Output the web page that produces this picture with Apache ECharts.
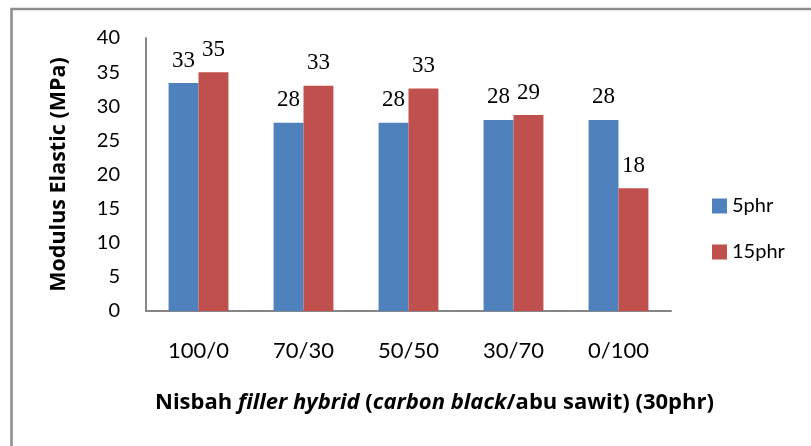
<!DOCTYPE html>
<html>
<head>
<meta charset="utf-8">
<script src="https://cdn.jsdelivr.net/npm/echarts@6/dist/echarts.min.js"></script>
<style>html,body{margin:0;padding:0;background:#fff;}#c{width:811px;height:446px;}</style>
</head>
<body>
<div id="c"></div>
<script>
const categories = ['100/0', '70/30', '50/50', '30/70', '0/100'];
const series5phr = [33.4, 27.6, 27.6, 28.0, 28.0];
const series15phr = [35.0, 33.0, 32.6, 28.7, 18.0];
const labels5phr = ['33', '28', '28', '28', '28'];
const labels15phr = ['35', '33', '33', '29', '18'];
const yTicks = [0, 5, 10, 15, 20, 25, 30, 35, 40];

const chart = echarts.init(document.getElementById('c'));
const sans = 'Lato';
const boldFont = '"Open Sans", sans-serif';
const catGap = 0.43;
const labelSeries = (values, texts, side) => ({
  type: 'custom', silent: true, z: 5,
  data: values.map((v, i) => [i, v]),
  renderItem: (params, api) => {
    const c = api.coord([api.value(0), api.value(1)]);
    const bw = api.size([1, 0])[0];
    const half = bw * (1 - catGap) / 4;
    return {
      type: 'text', x: c[0] + side * half, y: c[1] - 11,
      style: { text: texts[params.dataIndex], font: '23px "Liberation Serif"', fill: '#000',
        align: 'center', verticalAlign: 'bottom' }
    };
  }
});
chart.setOption({
  animation: false,
  backgroundColor: '#fff',
  grid: { left: 146, right: 140, top: 38, bottom: 135, containLabel: false },
  legend: {
    orient: 'vertical', left: 712, top: 196, padding: 0, itemWidth: 15, itemHeight: 15, itemGap: 26,
    icon: 'rect',
    textStyle: { fontFamily: sans, fontSize: 20, color: '#000' },
    data: ['5phr', '15phr']
  },
  xAxis: {
    type: 'category', data: categories,
    axisLine: { lineStyle: { color: '#868686', width: 2 } },
    axisTick: { show: false },
    axisLabel: { fontFamily: sans, fontSize: 22, color: '#000', margin: 29 }
  },
  yAxis: {
    type: 'value', min: 0, max: 40, interval: 5,
    name: 'Modulus Elastic (MPa)', nameLocation: 'middle', nameGap: 76, nameRotate: 90,
    nameTextStyle: { fontFamily: boldFont, fontSize: 21.5, fontWeight: 'bold', color: '#000' },
    axisLine: { show: true, lineStyle: { color: '#868686', width: 2 } },
    axisTick: { show: false },
    splitLine: { show: false },
    axisLabel: { fontFamily: sans, fontSize: 20, color: '#000', margin: 26,
      formatter: v => yTicks.includes(v) ? String(v) : '' }
  },
  series: [
    { name: '5phr', type: 'bar', data: series5phr, barGap: '0%', barCategoryGap: (catGap * 100) + '%',
      itemStyle: { color: '#4F81BD' } },
    { name: '15phr', type: 'bar', data: series15phr,
      itemStyle: { color: '#C0504D' } },
    labelSeries(series5phr, labels5phr, -1),
    labelSeries(series15phr, labels15phr, 1)
  ],
  graphic: [
    { type: 'rect', shape: { x: 11.5, y: 9, width: 900, height: 600 },
      style: { fill: 'none', stroke: '#8c8c8c', lineWidth: 2.5 }, silent: true },
    { type: 'text', left: 155, top: 392,
      style: {
        text: '{b|Nisbah }{bi|filler hybrid}{b| (}{bi|carbon black}{b|/abu sawit) (30phr)}',
        rich: {
          b: { fontFamily: boldFont, fontSize: 22, fontWeight: 'bold', fill: '#000' },
          bi: { fontFamily: boldFont, fontSize: 22, fontWeight: 'bold', fontStyle: 'italic', fill: '#000' }
        }
      }
    }
  ]
});
</script>
</body>
</html>
